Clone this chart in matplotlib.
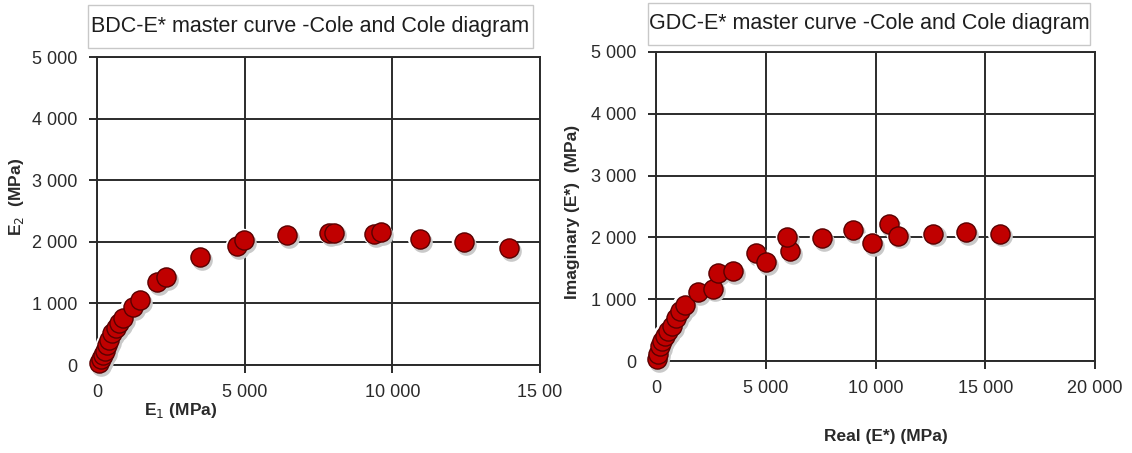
import matplotlib
matplotlib.use("Agg")
import matplotlib.pyplot as plt
import matplotlib.transforms as mtransforms
from matplotlib.patches import Rectangle

# BDC panel: E1 / E2 (MPa)
bdc_e1 = [60, 120, 200, 260, 350, 420, 520, 640, 760, 880, 1210, 1470, 2030, 2350,
          3500, 4750, 4990, 6440, 7850, 8020, 9380, 9630, 10930, 12430, 13950]
bdc_e2 = [30, 90, 170, 230, 330, 410, 520, 600, 680, 760, 940, 1050, 1350, 1430,
          1750, 1930, 2030, 2110, 2140, 2150, 2120, 2160, 2040, 2000, 1900]

# GDC panel: Real / Imaginary (E*) (MPa)
gdc_real = [30, 100, 180, 280, 410, 560, 710, 900, 1090, 1300, 1930, 2600, 2840, 3520,
            4560, 5010, 6100, 5980, 7550, 8990, 9830, 10630, 11040, 12640, 14120, 15670]
gdc_imag = [30, 120, 240, 330, 410, 480, 570, 700, 810, 900, 1110, 1170, 1430, 1460,
            1750, 1600, 1780, 2010, 1990, 2120, 1910, 2210, 2030, 2060, 2080, 2060]

y_ticks = [0, 1000, 2000, 3000, 4000, 5000]
y_ticklabels = ["0", "1 000", "2 000", "3 000", "4 000", "5 000"]
bdc_x_ticks = [0, 5000, 10000, 15000]
bdc_x_ticklabels = ["0", "5 000", "10 000", "15 00"]
gdc_x_ticks = [0, 5000, 10000, 15000, 20000]
gdc_x_ticklabels = ["0", "5 000", "10 000", "15 000", "20 000"]

plt.rcParams["font.family"] = ["Liberation Sans", "DejaVu Sans"]
GRID = "#2b2b2b"
TXT = "#2a2a2a"
W, H = 1132, 453

fig = plt.figure(figsize=(11.32, 4.53), dpi=100)


def style_axes(ax, xmax, xticks, xlabels):
    ax.set_xlim(0, xmax)
    ax.set_ylim(0, 5000)
    ax.set_xticks(xticks)
    ax.set_xticklabels(xlabels)
    ax.set_yticks(y_ticks)
    ax.set_yticklabels(y_ticklabels)
    ax.grid(True, color=GRID, linewidth=1.4)
    ax.set_axisbelow(True)
    for s in ax.spines.values():
        s.set_color(GRID)
        s.set_linewidth(1.4)
    ax.tick_params(direction="out", length=6, width=1.4, color=GRID,
                   labelsize=13, labelcolor=TXT, pad=8)


def draw_points(ax, xs, ys):
    shadow = mtransforms.offset_copy(ax.transData, fig=fig, x=1.5, y=-2, units="points")
    halo = mtransforms.offset_copy(ax.transData, fig=fig, x=-1.2, y=0.8, units="points")
    ax.scatter(xs, ys, s=220, color="#c9c9c9", linewidths=0, transform=shadow,
               clip_on=False, zorder=3)
    ax.scatter(xs, ys, s=240, color="white", linewidths=0, transform=halo,
               clip_on=False, zorder=3)
    ax.scatter(xs, ys, s=190, color="#c00000", edgecolors="#5a0000", linewidths=1.0,
               clip_on=False, zorder=4)


def title_box(x0, y0, x1, y1, text):
    fig.patches.append(Rectangle((x0 / W, 1 - y1 / H), (x1 - x0) / W, (y1 - y0) / H,
                                 transform=fig.transFigure, facecolor="white",
                                 edgecolor="#c8c8c8", linewidth=1))
    fig.text((x0 + x1) / 2 / W, 1 - (y0 + y1) / 2 / H, text, ha="center", va="center",
             fontsize=15.5, color="#1e1e1e")


ax1 = fig.add_axes([97 / W, 88 / H, 443 / W, 308 / H])
style_axes(ax1, 15000, bdc_x_ticks, bdc_x_ticklabels)
draw_points(ax1, bdc_e1, bdc_e2)

ax2 = fig.add_axes([656 / W, 92 / H, 439 / W, 309 / H])
style_axes(ax2, 20000, gdc_x_ticks, gdc_x_ticklabels)
draw_points(ax2, gdc_real, gdc_imag)

# axis labels (placed like the original, not centred)
fig.text(181 / W, 1 - 410 / H, "E$_1$ (MPa)", ha="center", va="center",
         fontsize=12.5, fontweight="bold", color=TXT)
fig.text(17 / W, 1 - 197 / H, "E$_2$  (MPa)", ha="center", va="center",
         rotation=90, fontsize=12.5, fontweight="bold", color=TXT)
fig.text(886 / W, 1 - 437 / H, "Real (E*) (MPa)", ha="center", va="center",
         fontsize=12.5, fontweight="bold", color=TXT)
fig.text(573 / W, 1 - 212 / H, "Imaginary (E*)  (MPa)", ha="center", va="center",
         rotation=90, fontsize=12.5, fontweight="bold", color=TXT)

# titles in boxes
title_box(88, 5, 533, 48, "BDC-E* master curve -Cole and Cole diagram")
title_box(648, 3, 1090, 45, "GDC-E* master curve -Cole and Cole diagram")

fig.savefig("out.png", dpi=100)
